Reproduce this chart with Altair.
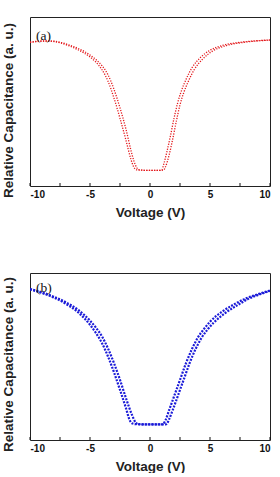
import altair as alt
import pandas as pd

# ---- data ----
# panel (a): two sweep branches (left-shifted / right-shifted)
VA1 = [-10, -9, -8.5, -8, -7.4, -6.8, -6, -5.5, -5, -4.5, -4, -3.5, -3, -2.5, -2, -1.6, -1.35, -1.1, -0.5, 0,
       0.5, 0.9, 1.0, 1.15, 1.4, 1.7, 2.0, 2.3, 2.6, 3.0, 3.5, 4.2, 5.0, 6.1, 7.5, 9, 10]
CA1 = [0.850, 0.857, 0.858, 0.855, 0.845, 0.831, 0.806, 0.787, 0.763, 0.733, 0.688, 0.620, 0.520, 0.400, 0.270,
       0.160, 0.112, 0.096, 0.093, 0.092, 0.092, 0.093, 0.097, 0.130, 0.200, 0.295, 0.400, 0.490, 0.560, 0.630,
       0.700, 0.760, 0.803, 0.833, 0.850, 0.860, 0.864]
VA2 = [-10, -9, -8.5, -8, -7.4, -6.8, -6, -5.5, -5, -4.5, -4, -3.5, -3, -2.5, -2, -1.6, -1.35, -1.1, -0.85, -0.5,
       0, 0.5, 1.0, 1.15, 1.3, 1.6, 1.9, 2.2, 2.5, 2.8, 3.2, 3.7, 4.4, 5.2, 6.3, 7.6, 9, 10]
CA2 = [0.851, 0.858, 0.858, 0.857, 0.849, 0.836, 0.814, 0.797, 0.775, 0.748, 0.712, 0.658, 0.572, 0.462, 0.335,
       0.215, 0.150, 0.108, 0.095, 0.093, 0.092, 0.092, 0.093, 0.096, 0.115, 0.185, 0.280, 0.385, 0.480, 0.550,
       0.620, 0.690, 0.752, 0.798, 0.830, 0.848, 0.859, 0.863]

# panel (b)
VB1 = [-10, -9, -8, -7, -6, -5, -4.5, -4, -3.5, -3, -2.5, -2, -1.7, -1.5, -1.2, 0, 1.0, 1.1, 1.3, 1.6, 2, 2.5,
       3, 3.5, 4, 4.5, 5, 6, 7, 8, 9, 10]
CB1 = [0.902, 0.880, 0.853, 0.815, 0.765, 0.690, 0.640, 0.580, 0.500, 0.405, 0.300, 0.190, 0.120, 0.100, 0.095,
       0.093, 0.093, 0.096, 0.120, 0.180, 0.260, 0.360, 0.460, 0.545, 0.615, 0.665, 0.708, 0.768, 0.812, 0.848,
       0.873, 0.895]
VB2 = [-10, -9, -8, -7, -6, -5, -4.5, -4, -3.5, -3, -2.5, -2, -1.5, -1.2, -1.0, 0, 1.3, 1.4, 1.6, 1.9, 2.3, 2.8,
       3.3, 3.8, 4.3, 4.8, 5.3, 6.3, 7.3, 8.2, 9.1, 10]
CB2 = [0.904, 0.884, 0.858, 0.824, 0.780, 0.715, 0.672, 0.620, 0.548, 0.460, 0.360, 0.250, 0.150, 0.105, 0.095,
       0.093, 0.093, 0.097, 0.125, 0.180, 0.260, 0.360, 0.460, 0.545, 0.612, 0.662, 0.702, 0.762, 0.808, 0.845,
       0.871, 0.893]

X_TICKS = [-10, -5, 0, 5, 10]
MINOR_TICKS = [-7.5, -2.5, 2.5, 7.5]
PANEL_LABELS = ["(a)", "(b)"]
COLORS = ["#e3191c", "#1b1bd8"]


def frame(v1, c1, v2, c2):
    return pd.concat([
        pd.DataFrame({"V": v1, "C": c1, "branch": "sweep 1"}),
        pd.DataFrame({"V": v2, "C": c2, "branch": "sweep 2"}),
    ])


ticks_df = pd.DataFrame({"t": X_TICKS + MINOR_TICKS})


def panel(df, label, color, h, title_y, sw, dash):
    x = alt.X("V:Q", scale=alt.Scale(domain=[-10, 10], nice=False),
              axis=alt.Axis(values=X_TICKS, ticks=False, tickSize=0, domain=False, grid=False,
                            labelExpr="'' + datum.value", labelFont="Liberation Sans",
                            labelFontWeight="bold", labelFontSize=10, labelColor="#111",
                            labelPadding=3, title="Voltage (V)", titleFont="Liberation Sans",
                            titleFontWeight="bold", titleFontSize=13.5, titleColor="#222",
                            titlePadding=6))
    y = alt.Y("C:Q", scale=alt.Scale(domain=[0, 1], nice=False),
              axis=alt.Axis(labels=False, ticks=False, tickSize=0, domain=False, grid=False,
                            title="Relative Capacitance (a. u.)", titleFont="Liberation Sans",
                            titleFontWeight="bold", titleFontSize=13.5, titleColor="#222",
                            titleAngle=270, titleX=-18, titleY=title_y,
                            titleBaseline="alphabetic", titleAlign="center"))
    curve = alt.Chart(df).mark_line(color=color, strokeWidth=sw, strokeDash=dash,
                                    interpolate="monotone", clip=True).encode(
        x=x, y=y, detail="branch:N")
    tks = alt.Chart(ticks_df).mark_rule(color="#111", strokeWidth=1).encode(
        x=alt.X("t:Q"), y=alt.value(h), y2=alt.value(h - 3))
    txt = alt.Chart(pd.DataFrame({"lab": [label]})).mark_text(
        font="Liberation Serif", fontSize=13.5, align="left", baseline="middle", color="#111").encode(
        text="lab:N", x=alt.value(6), y=alt.value(19 if label == "(a)" else 15))
    return alt.layer(curve, tks, txt).properties(width=240, height=h)


top = panel(frame(VA1, CA1, VA2, CA2), PANEL_LABELS[0], COLORS[0], 169, 93, 1.3, [1.2, 1.4])
bottom = panel(frame(VB1, CB1, VB2, CB2), PANEL_LABELS[1], COLORS[1], 167, 91, 2.2, [2, 1.3])

chart = alt.vconcat(top, bottom, spacing=53).properties(
    padding={"left": 0, "top": 16, "right": 6, "bottom": 0},
    background="white",
).configure_view(stroke="#222", strokeWidth=1)

chart.save("out.html", embed_options={"renderer": "svg", "actions": False})
